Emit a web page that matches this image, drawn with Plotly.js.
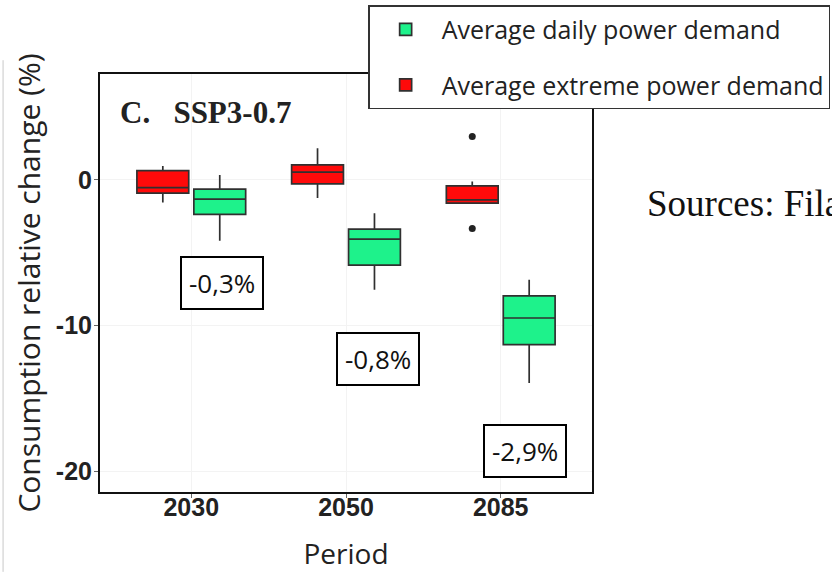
<!DOCTYPE html>
<html>
<head>
<meta charset="utf-8">
<script src="https://cdn.plot.ly/plotly-3.0.1.min.js"></script>
<style>
  html, body { margin: 0; padding: 0; background: #fff; }
  #chart { width: 832px; height: 572px; }
</style>
</head>
<body>
<div id="chart"></div>
<script>
// periods on the x axis
const periods = ['2030', '2050', '2085'];

// Average daily power demand (green), % change
const dailyQ1 = [-2.37, -5.84, -11.30];
const dailyMedian = [-1.32, -4.06, -9.47];
const dailyQ3 = [-0.64, -3.38, -7.95];
const dailyLow = [-4.18, -7.53, -13.93];
const dailyHigh = [0.34, -2.28, -6.85];

// Average extreme power demand (red), % change
const extremeQ1 = [-0.91, -0.27, -1.60];
const extremeMedian = [-0.53, 0.53, -1.37];
const extremeQ3 = [0.64, 1.03, -0.41];
const extremeLow = [-1.55, -1.25, -1.60];
const extremeHigh = [0.96, 2.17, -0.11];

// outliers of the extreme series for 2085
const outlierPeriod = [2, 2];
const outlierValues = [2.97, -3.33];

// boxed labels under each period
const noteLabels = ['-0,3%', '-0,8%', '-2,9%'];
const notePos = [0.2, 1.21, 2.16];
const noteValues = [-7.05, -12.26, -18.6];

const yTicks = [0, -10, -20];
const yTickText = ['0', '-10', '-20'];

const GREEN = '#1ef28b';
const RED = '#ff0a0a';
const EDGE = '#303030';
const SHIFT = 0.184;   // half distance between paired boxes
const BOXW = 0.335;

const idx = periods.map((p, i) => i);

var daily = {
    type: 'box',
    name: 'Average daily power demand',
    x: idx.map(i => i + SHIFT),
    q1: dailyQ1,
    median: dailyMedian,
    q3: dailyQ3,
    lowerfence: dailyLow,
    upperfence: dailyHigh,
    width: BOXW,
    whiskerwidth: 0,
    boxpoints: false,
    fillcolor: GREEN,
    line: { color: EDGE, width: 1.7 },
    legendgroup: 'a',
    hoverinfo: 'skip'
};

var extreme = {
    type: 'box',
    name: 'Average extreme power demand',
    x: idx.map(i => i - SHIFT),
    q1: extremeQ1,
    median: extremeMedian,
    q3: extremeQ3,
    lowerfence: extremeLow,
    upperfence: extremeHigh,
    width: BOXW,
    whiskerwidth: 0,
    boxpoints: false,
    fillcolor: RED,
    line: { color: EDGE, width: 1.7 },
    legendgroup: 'b',
    hoverinfo: 'skip'
};

var outliers = {
    type: 'scatter',
    mode: 'markers',
    x: outlierPeriod.map(i => i - SHIFT),
    y: outlierValues,
    marker: { color: '#222', size: 7 },
    showlegend: false,
    hoverinfo: 'skip'
};

var notes = noteLabels.map((t, i) => ({
    xref: 'x', yref: 'y',
    x: notePos[i], y: noteValues[i],
    text: t,
    showarrow: false,
    font: { family: 'Open Sans', size: 26, color: '#111' },
    bgcolor: '#fff',
    bordercolor: '#000',
    borderwidth: 2,
    borderpad: 7
}));

notes.push({
    xref: 'paper', yref: 'paper',
    x: 0.037, y: 0.909, xanchor: 'left', yanchor: 'middle',
    text: 'C.   SSP3-0.7',
    showarrow: false,
    font: { family: 'Liberation Serif', size: 31, color: '#222', weight: 'bold' }
});
notes.push({
    xref: 'paper', yref: 'paper',
    x: 1.108, y: 0.691, xanchor: 'left', yanchor: 'middle',
    text: 'Sources: Fila',
    showarrow: false,
    font: { family: 'Liberation Serif', size: 37, color: '#111' }
});

var layout = {
    width: 832,
    height: 572,
    margin: { l: 100, r: 240, t: 74, b: 80, autoexpand: false },
    paper_bgcolor: '#fff',
    plot_bgcolor: '#fff',
    showlegend: true,
    legend: {
        x: 0.545, y: 1.165, xanchor: 'left', yanchor: 'top',
        bgcolor: '#fff',
        bordercolor: '#333',
        borderwidth: 1.5,
        font: { family: 'Open Sans', size: 25, color: '#222' },
        itemwidth: 62,
        tracegroupgap: 20,
        traceorder: 'grouped'
    },
    xaxis: {
        range: [-0.59, 2.59],
        tickvals: idx,
        ticktext: periods,
        tickfont: { family: 'Liberation Sans', size: 25, color: '#222', weight: 'bold' },
        ticks: 'outside', ticklen: 4, tickcolor: '#666',
        ticklabelstandoff: -12,
        showline: true, mirror: true, linecolor: '#111', linewidth: 2,
        showgrid: true, gridcolor: '#f3f3f3',
        zeroline: false,
        title: { text: 'Period', font: { family: 'Open Sans', size: 28, color: '#222' }, standoff: 28 }
    },
    yaxis: {
        range: [-21.4, 7.26],
        tickvals: yTicks,
        ticktext: yTickText,
        tickfont: { family: 'Liberation Sans', size: 25, color: '#222', weight: 'bold' },
        ticks: 'outside', ticklen: 4, tickcolor: '#666',
        ticklabelstandoff: -3,
        showline: true, mirror: true, linecolor: '#111', linewidth: 2,
        showgrid: true, gridcolor: '#f3f3f3',
        zeroline: false,
        title: { text: 'Consumption relative change (%)', font: { family: 'Open Sans', size: 30, color: '#222' }, standoff: 6 }
    },
    annotations: notes,
    shapes: [{
        type: 'line', xref: 'paper', yref: 'paper',
        x0: -0.197, x1: -0.197, y0: -0.191, y1: 1.033,
        line: { color: '#c8c8c8', width: 1 }
    }]
};

Plotly.newPlot('chart', [daily, extreme, outliers], layout, { displayModeBar: false, staticPlot: true });
</script>
</body>
</html>
